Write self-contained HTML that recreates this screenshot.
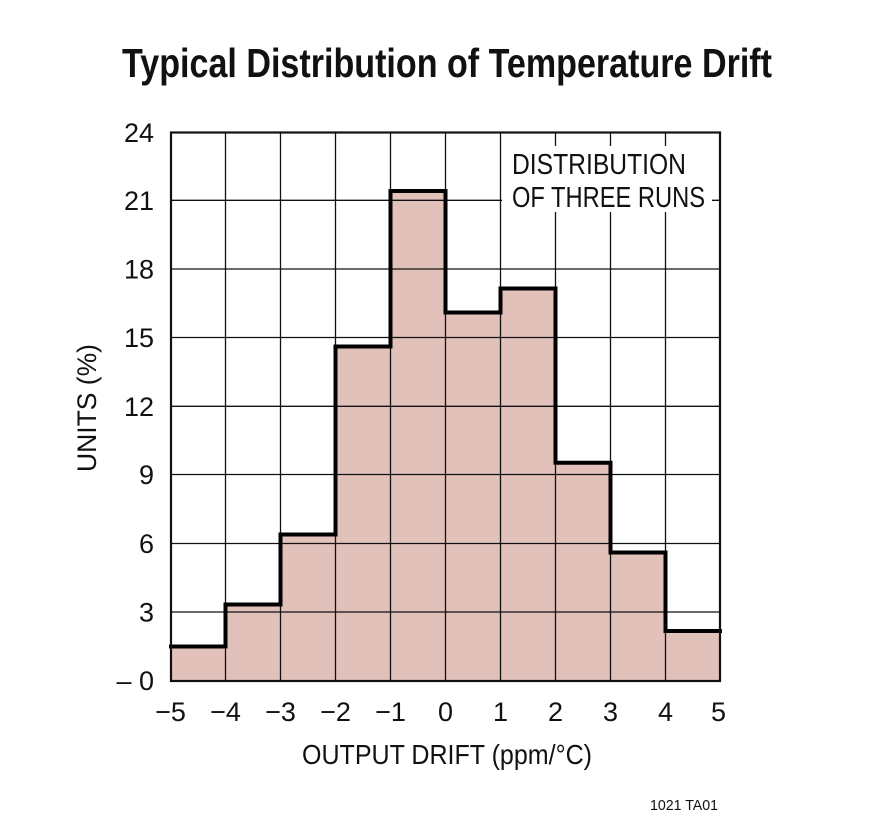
<!DOCTYPE html>
<html>
<head>
<meta charset="utf-8">
<style>
  html,body{margin:0;padding:0;background:#fff;}
  svg{display:block;}
  text{font-family:"Liberation Sans",Arial,sans-serif;fill:#111;}
</style>
</head>
<body>
<svg width="875" height="825" viewBox="0 0 875 825" xmlns="http://www.w3.org/2000/svg">
  <rect x="0" y="0" width="875" height="825" fill="#fff"/>

  <!-- Title -->
  <text x="122" y="77" font-size="41" font-weight="bold" textLength="650" lengthAdjust="spacingAndGlyphs">Typical Distribution of Temperature Drift</text>

  <!-- Histogram fill -->
  <path d="M170.5,646.5 H225.5 V604.5 H280.5 V534.5 H335.5 V346.5 H390.5 V191 H445.5 V312.5 H500.5 V288.5 H555.5 V462.7 H610.5 V552.5 H665.5 V631 H720.5 V681 H170.5 Z" fill="#e3c1bb"/>

  <!-- Grid lines -->
  <g stroke="#111" stroke-width="1.3">
    <line x1="225.5" y1="132" x2="225.5" y2="681"/>
    <line x1="280.5" y1="132" x2="280.5" y2="681"/>
    <line x1="335.5" y1="132" x2="335.5" y2="681"/>
    <line x1="390.5" y1="132" x2="390.5" y2="681"/>
    <line x1="445.5" y1="132" x2="445.5" y2="681"/>
    <line x1="500.5" y1="132" x2="500.5" y2="681"/>
    <line x1="555.5" y1="132" x2="555.5" y2="681"/>
    <line x1="610.5" y1="132" x2="610.5" y2="681"/>
    <line x1="665.5" y1="132" x2="665.5" y2="681"/>

    <line x1="171" y1="200.3" x2="720" y2="200.3"/>
    <line x1="171" y1="269" x2="720" y2="269"/>
    <line x1="171" y1="337.5" x2="720" y2="337.5"/>
    <line x1="171" y1="406.3" x2="720" y2="406.3"/>
    <line x1="171" y1="474.5" x2="720" y2="474.5"/>
    <line x1="171" y1="543.5" x2="720" y2="543.5"/>
    <line x1="171" y1="612" x2="720" y2="612"/>
  </g>

  <!-- Legend white box -->
  <rect x="502" y="146" width="210" height="66" fill="#fff"/>
  <text x="512" y="174" font-size="29" textLength="174" lengthAdjust="spacingAndGlyphs">DISTRIBUTION</text>
  <text x="512" y="207" font-size="29" textLength="193" lengthAdjust="spacingAndGlyphs">OF THREE RUNS</text>

  <!-- Histogram outline -->
  <path d="M171,646.5 H225.5 V604.5 H280.5 V534.5 H335.5 V346.5 H390.5 V191 H445.5 V312.5 H500.5 V288.5 H555.5 V462.7 H610.5 V552.5 H665.5 V631 H720" fill="none" stroke="#000" stroke-width="4" stroke-linejoin="miter" stroke-linecap="square"/>

  <!-- Frame -->
  <rect x="171" y="132.5" width="549" height="548.5" fill="none" stroke="#111" stroke-width="2.2"/>

  <!-- Y tick labels -->
  <g font-size="27" text-anchor="end">
    <text x="154" y="142">24</text>
    <text x="154" y="210">21</text>
    <text x="154" y="278.5">18</text>
    <text x="154" y="347">15</text>
    <text x="154" y="416">12</text>
    <text x="154" y="484">9</text>
    <text x="154" y="553">6</text>
    <text x="154" y="621.5">3</text>
    <text x="154" y="690">– 0</text>
  </g>

  <!-- X tick labels -->
  <g font-size="27" text-anchor="middle">
    <text x="170.5" y="721">−5</text>
    <text x="225.5" y="721">−4</text>
    <text x="280.5" y="721">−3</text>
    <text x="335.5" y="721">−2</text>
    <text x="390.5" y="721">−1</text>
    <text x="445.5" y="721">0</text>
    <text x="500.5" y="721">1</text>
    <text x="555.5" y="721">2</text>
    <text x="610.5" y="721">3</text>
    <text x="665.5" y="721">4</text>
    <text x="718.5" y="721">5</text>
  </g>

  <!-- Axis titles -->
  <text x="302" y="764" font-size="28" textLength="290" lengthAdjust="spacingAndGlyphs">OUTPUT DRIFT (ppm/°C)</text>
  <text transform="translate(96,408) rotate(-90)" font-size="27" text-anchor="middle" textLength="128" lengthAdjust="spacingAndGlyphs">UNITS (%)</text>

  <!-- Footnote -->
  <text x="650" y="810" font-size="15" textLength="68" lengthAdjust="spacingAndGlyphs">1021 TA01</text>
</svg>
</body>
</html>
